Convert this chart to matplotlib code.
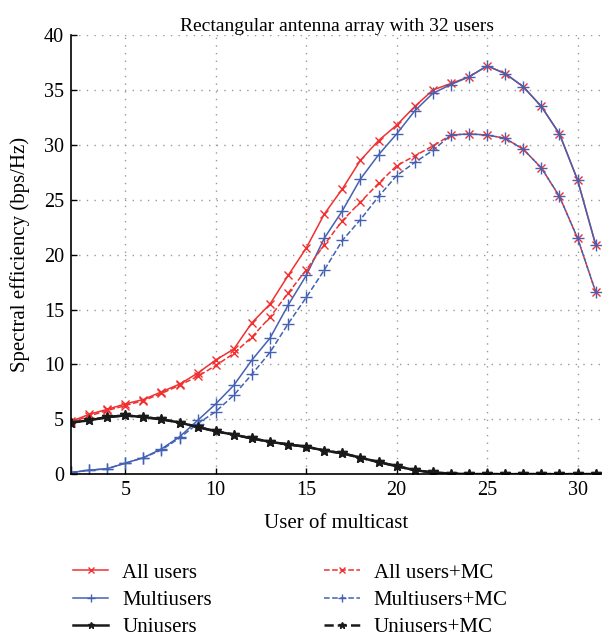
import matplotlib
matplotlib.use("Agg")
import matplotlib.pyplot as plt

plt.rcParams['font.family'] = ['Liberation Serif', 'DejaVu Serif']

# number of users in the multicast group
users = list(range(2, 32))

all_users = [4.8, 5.45, 5.9, 6.4, 6.8, 7.5, 8.2, 9.2, 10.4, 11.4, 13.8, 15.5, 18.1, 20.6,
             23.7, 26.0, 28.6, 30.4, 31.8, 33.5, 35.0, 35.6, 36.2, 37.2, 36.5, 35.3,
             33.5, 31.0, 26.8, 20.9]
multiusers = [0.15, 0.36, 0.5, 1.0, 1.5, 2.3, 3.4, 4.9, 6.4, 8.1, 10.4, 12.4, 15.4, 18.1,
              21.5, 24.0, 26.9, 29.1, 31.0, 33.1, 34.7, 35.5, 36.2, 37.2, 36.5, 35.3,
              33.5, 31.0, 26.8, 20.9]
uniusers = [4.7, 4.9, 5.2, 5.35, 5.2, 5.0, 4.7, 4.3, 3.9, 3.6, 3.25, 2.95, 2.7, 2.5,
            2.15, 1.9, 1.5, 1.1, 0.73, 0.36, 0.15, 0.05, 0.0, 0.0, 0.0, 0.0, 0.0, 0.0,
            0.0, 0.0]

all_users_mc = [4.7, 5.3, 5.8, 6.25, 6.7, 7.35, 8.1, 8.9, 9.9, 11.0, 12.5, 14.3, 16.5, 18.6,
                20.9, 23.1, 24.8, 26.5, 28.1, 29.0, 29.9, 30.9, 31.0, 30.9, 30.6, 29.6,
                27.9, 25.3, 21.5, 16.6]
multiusers_mc = [0.15, 0.35, 0.5, 1.0, 1.5, 2.2, 3.3, 4.6, 5.7, 7.2, 9.1, 11.1, 13.7, 16.1,
                 18.6, 21.3, 23.2, 25.3, 27.2, 28.4, 29.5, 30.9, 31.0, 30.9, 30.6, 29.6,
                 27.9, 25.3, 21.5, 16.6]
uniusers_mc = list(uniusers)

red = '#f03030'
blue = '#4461b3'
black = '#1a1a1a'

fig = plt.figure(figsize=(6.02, 6.39), dpi=100)
ax = fig.add_axes([0.118, 0.258, 0.882, 0.687])

h1, = ax.plot(users, all_users, '-', color=red, marker='x', ms=5.5, lw=1.1, label='All users')
h2, = ax.plot(users, multiusers, '-', color=blue, marker='+', ms=8, lw=1.1, label='Multiusers')
h3, = ax.plot(users, uniusers, '-', color=black, marker='*', ms=7, lw=1.8, label='Uniusers')
h4, = ax.plot(users, all_users_mc, '--', color=red, marker='x', ms=5.5, lw=1.1, label='All users+MC')
h5, = ax.plot(users, multiusers_mc, '--', color=blue, marker='+', ms=8, lw=1.1, label='Multiusers+MC')
h6, = ax.plot(users, uniusers_mc, '--', color=black, marker='*', ms=7, lw=1.8, label='Uniusers+MC')

ax.set_xlim(2, 31.35)
ax.set_ylim(0, 40)
ax.set_xticks([5, 10, 15, 20, 25, 30])
ax.set_yticks(range(0, 41, 5))
ax.tick_params(direction='in', length=4, labelsize=14.5, width=1, pad=5)
ax.grid(True, color='#999999', linestyle=(0, (1, 4.5)), linewidth=1)
ax.spines['top'].set_visible(False)
ax.spines['right'].set_visible(False)
ax.spines['left'].set_linewidth(1.2)
ax.spines['bottom'].set_linewidth(1.2)

ax.set_title("Rectangular antenna array with 32 users", fontsize=14, pad=1)
ax.set_xlabel("User of multicast", fontsize=15, labelpad=10)
ax.set_ylabel("Spectral efficiency (bps/Hz)", fontsize=15, labelpad=10)

fig.legend(handles=[h1, h2, h3, h4, h5, h6], ncol=2, frameon=False,
           loc='upper left', bbox_to_anchor=(0.09, 0.148), fontsize=15,
           handlelength=1.7, handletextpad=0.67, columnspacing=5.4,
           labelspacing=0.36, markerscale=0.7)

plt.savefig("out.png", dpi=100)
plt.close()
